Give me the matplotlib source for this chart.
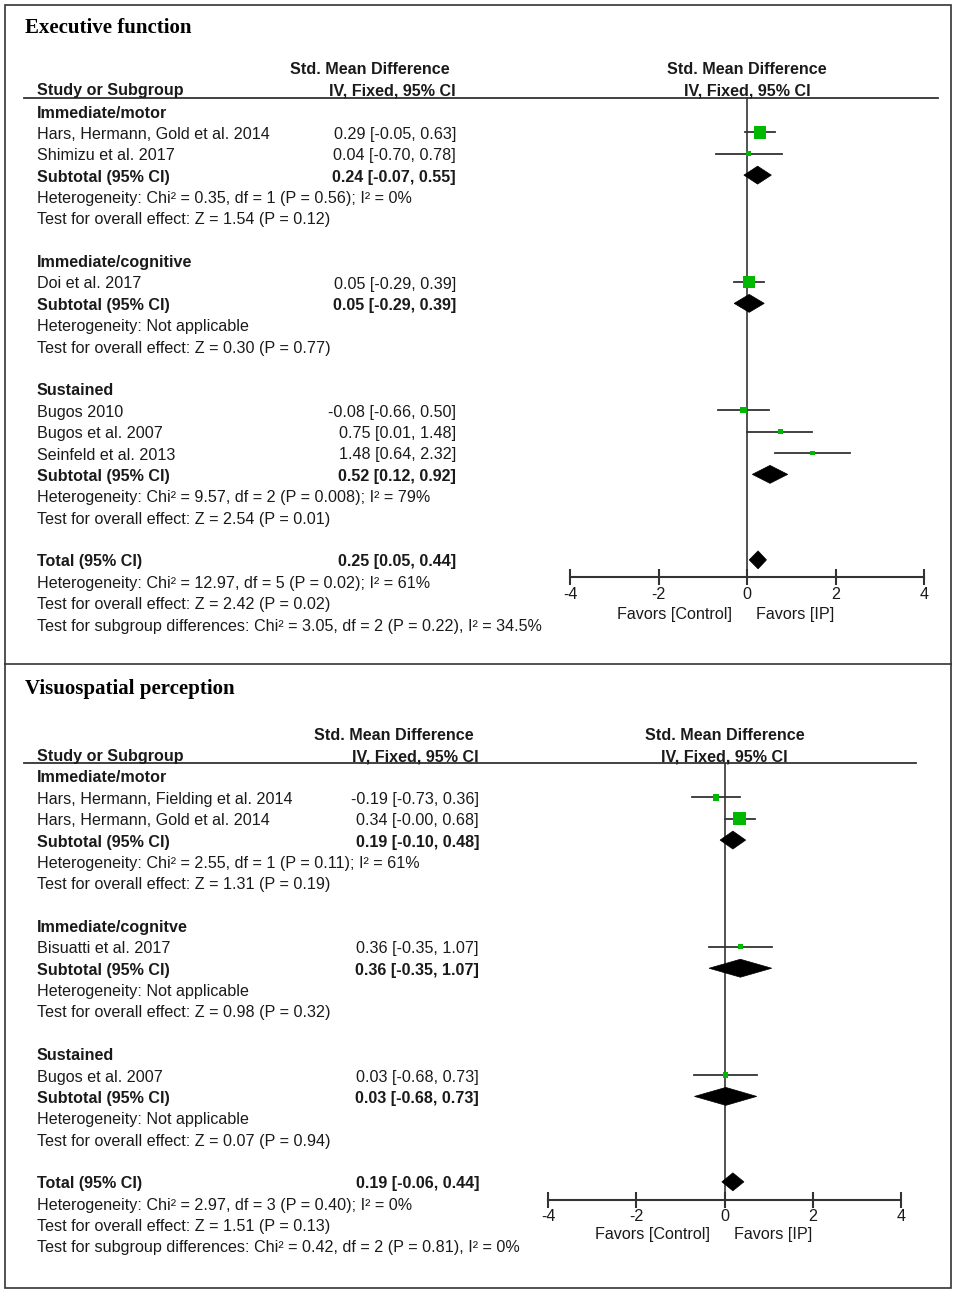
import matplotlib
matplotlib.use("Agg")
import matplotlib.pyplot as plt
from matplotlib.patches import Polygon, Rectangle
from matplotlib.transforms import blended_transform_factory

# ---- Executive function data ----
ef_groups = ["Immediate/motor", "Immediate/cognitive", "Sustained"]
ef_studies = [["Hars, Hermann, Gold et al. 2014", "Shimizu et al. 2017"],
              ["Doi et al. 2017"],
              ["Bugos 2010", "Bugos et al. 2007", "Seinfeld et al. 2013"]]
ef_smd = [[0.29, 0.04], [0.05], [-0.08, 0.75, 1.48]]
ef_lo = [[-0.05, -0.70], [-0.29], [-0.66, 0.01, 0.64]]
ef_hi = [[0.63, 0.78], [0.39], [0.50, 1.48, 2.32]]
ef_weight = [[34.2, 7.2], [34.2], [11.7, 7.3, 5.6]]
ef_sub_smd = [0.24, 0.05, 0.52]
ef_sub_lo = [-0.07, -0.29, 0.12]
ef_sub_hi = [0.55, 0.39, 0.92]
ef_het = ["Heterogeneity: Chi² = 0.35, df = 1 (P = 0.56); I² = 0%",
          "Heterogeneity: Not applicable",
          "Heterogeneity: Chi² = 9.57, df = 2 (P = 0.008); I² = 79%"]
ef_z = ["Test for overall effect: Z = 1.54 (P = 0.12)",
        "Test for overall effect: Z = 0.30 (P = 0.77)",
        "Test for overall effect: Z = 2.54 (P = 0.01)"]
ef_total = [0.25, 0.05, 0.44]
ef_total_text = ["Heterogeneity: Chi² = 12.97, df = 5 (P = 0.02); I² = 61%",
                 "Test for overall effect: Z = 2.42 (P = 0.02)",
                 "Test for subgroup differences: Chi² = 3.05, df = 2 (P = 0.22), I² = 34.5%"]

# ---- Visuospatial perception data ----
vp_groups = ["Immediate/motor", "Immediate/cognitve", "Sustained"]
vp_studies = [["Hars, Hermann, Fielding et al. 2014", "Hars, Hermann, Gold et al. 2014"],
              ["Bisuatti et al. 2017"],
              ["Bugos et al. 2007"]]
vp_smd = [[-0.19, 0.34], [0.36], [0.03]]
vp_lo = [[-0.73, -0.0], [-0.35], [-0.68]]
vp_hi = [[0.36, 0.68], [1.07], [0.73]]
vp_weight = [[21.1, 54.1], [12.4], [12.5]]
vp_sub_smd = [0.19, 0.36, 0.03]
vp_sub_lo = [-0.10, -0.35, -0.68]
vp_sub_hi = [0.48, 1.07, 0.73]
vp_het = ["Heterogeneity: Chi² = 2.55, df = 1 (P = 0.11); I² = 61%",
          "Heterogeneity: Not applicable",
          "Heterogeneity: Not applicable"]
vp_z = ["Test for overall effect: Z = 1.31 (P = 0.19)",
        "Test for overall effect: Z = 0.98 (P = 0.32)",
        "Test for overall effect: Z = 0.07 (P = 0.94)"]
vp_total = [0.19, -0.06, 0.44]
vp_total_text = ["Heterogeneity: Chi² = 2.97, df = 3 (P = 0.40); I² = 0%",
                 "Test for overall effect: Z = 1.51 (P = 0.13)",
                 "Test for subgroup differences: Chi² = 0.42, df = 2 (P = 0.81), I² = 0%"]

ticks = [-4, -2, 0, 2, 4]

W, H, DPI = 957, 1292, 100
FS = 11.6
INK = "#1a1a1a"
LINE = "#333333"
GREEN = "#00b800"
TY = 2  # small downward nudge for text rows

plt.rcParams["font.family"] = ["Liberation Sans", "DejaVu Sans"]

fig = plt.figure(figsize=(W / DPI, H / DPI), dpi=DPI)
bg = fig.add_axes([0, 0, 1, 1])
bg.set_xlim(0, W)
bg.set_ylim(H, 0)
bg.axis("off")

# outer frame and divider between the two panels
bg.add_patch(Rectangle((4.5, 4.5), 946, 1283, fill=False, ec=LINE, lw=1.2))
bg.plot([4.5, 950.5], [664, 664], color=LINE, lw=1.2)


def ci_text(m, l, h):
    return f"{m:.2f} [{l:.2f}, {h:.2f}]"


def draw_panel(title, groups, studies, smd, lo, hi, weight, sub_smd, sub_lo, sub_hi,
               het, zt, total, total_text, lay):
    row0, dy = lay["row0"], lay["dy"]

    def py(r):
        return row0 + r * dy + TY

    def txt(x, r, s, bold=False, ha="left"):
        bg.text(x, py(r), s, fontsize=FS, color=INK, ha=ha, va="center",
                fontweight="bold" if bold else "normal")

    # titles and headers
    bg.text(25, lay["title_y"], title, family="Liberation Serif", fontweight="bold",
            fontsize=15, color="black", va="center")
    bg.text(lay["smd_c"], lay["h1"] + TY, "Std. Mean Difference", fontsize=FS, fontweight="bold",
            ha="center", va="center", color=INK)
    bg.text(37, lay["h2"] + TY, "Study or Subgroup", fontsize=FS, fontweight="bold",
            va="center", color=INK)
    bg.text(lay["ci_r"], lay["h2"] + TY, "IV, Fixed, 95% CI", fontsize=FS, fontweight="bold",
            ha="right", va="center", color=INK)
    x0 = (lay["ax_l"] + lay["ax_r"]) / 2
    bg.text(x0, lay["h1"] + TY, "Std. Mean Difference", fontsize=FS, fontweight="bold",
            ha="center", va="center", color=INK)
    bg.text(x0, lay["h2"] + TY, "IV, Fixed, 95% CI", fontsize=FS, fontweight="bold",
            ha="center", va="center", color=INK)
    bg.plot([24, lay["line_r"]], [lay["line_y"], lay["line_y"]], color=LINE, lw=1.3)

    # forest axes
    ax = fig.add_axes([lay["ax_l"] / W, 1 - lay["axis_y"] / H,
                       (lay["ax_r"] - lay["ax_l"]) / W, (lay["axis_y"] - lay["line_y"]) / H])
    ax.set_facecolor("none")
    ax.set_xlim(-4, 4)
    ax.set_ylim((lay["axis_y"] - row0) / dy, (lay["line_y"] - row0) / dy)
    for side in ["top", "left", "right"]:
        ax.spines[side].set_visible(False)
    ax.spines["bottom"].set_bounds(-4, 4)
    ax.spines["bottom"].set_color(LINE)
    ax.spines["bottom"].set_linewidth(1.5)
    ax.set_xticks(ticks)
    ax.set_xticklabels([str(t) for t in ticks])
    ax.set_yticks([])
    ax.tick_params(axis="x", direction="inout", length=11, width=1.5, color=LINE,
                   labelsize=FS, labelcolor=INK, pad=1.5)
    ax.axvline(0, color=LINE, lw=1.2, zorder=1)

    wmax = max(max(w) for w in weight)
    hd = 0.42

    def diamond(m, l, h, r):
        ax.add_patch(Polygon([(l, r), (m, r - hd), (h, r), (m, r + hd)], closed=True,
                             fc="black", ec="black", lw=0.5, zorder=3))

    r = 0
    for g in range(len(groups)):
        txt(37, r, groups[g], bold=True)
        r += 1
        for k in range(len(studies[g])):
            txt(37, r, studies[g][k])
            txt(lay["ci_r"], r, ci_text(smd[g][k], lo[g][k], hi[g][k]), ha="right")
            ax.plot([lo[g][k], hi[g][k]], [r, r], color=LINE, lw=1.3, zorder=2)
            side_px = 3 + 9.5 * weight[g][k] / wmax
            ax.scatter([smd[g][k]], [r], marker="s", s=(side_px * 72 / DPI) ** 2,
                       color=GREEN, edgecolors="none", zorder=4)
            r += 1
        txt(37, r, "Subtotal (95% CI)", bold=True)
        txt(lay["ci_r"], r, ci_text(sub_smd[g], sub_lo[g], sub_hi[g]), bold=True, ha="right")
        diamond(sub_smd[g], sub_lo[g], sub_hi[g], r)
        r += 1
        txt(37, r, het[g])
        r += 1
        txt(37, r, zt[g])
        r += 2

    txt(37, r, "Total (95% CI)", bold=True)
    txt(lay["ci_r"], r, ci_text(*total), bold=True, ha="right")
    diamond(total[0], total[1], total[2], r)
    for s in total_text:
        r += 1
        txt(37, r, s)

    tr = blended_transform_factory(ax.transData, bg.transData)
    ax.text(-0.33, lay["fav_y"] + TY, "Favors [Control]", transform=tr, ha="right", va="center",
            fontsize=FS, color=INK, clip_on=False)
    ax.text(0.21, lay["fav_y"] + TY, "Favors [IP]", transform=tr, ha="left", va="center",
            fontsize=FS, color=INK, clip_on=False)


lay1 = dict(title_y=28, h1=68, h2=89, line_y=97.5, row0=111, dy=21.375, ci_r=456, smd_c=370,
            ax_l=570, ax_r=924, axis_y=577.5, line_r=938, fav_y=612)
lay2 = dict(title_y=689, h1=734, h2=755, line_y=763, row0=776, dy=21.36, ci_r=479, smd_c=394,
            ax_l=548, ax_r=901, axis_y=1199.5, line_r=916, fav_y=1233)

draw_panel("Executive function", ef_groups, ef_studies, ef_smd, ef_lo, ef_hi, ef_weight,
           ef_sub_smd, ef_sub_lo, ef_sub_hi, ef_het, ef_z, ef_total, ef_total_text, lay1)
draw_panel("Visuospatial perception", vp_groups, vp_studies, vp_smd, vp_lo, vp_hi, vp_weight,
           vp_sub_smd, vp_sub_lo, vp_sub_hi, vp_het, vp_z, vp_total, vp_total_text, lay2)

fig.savefig("out.png", dpi=DPI, facecolor="white")
